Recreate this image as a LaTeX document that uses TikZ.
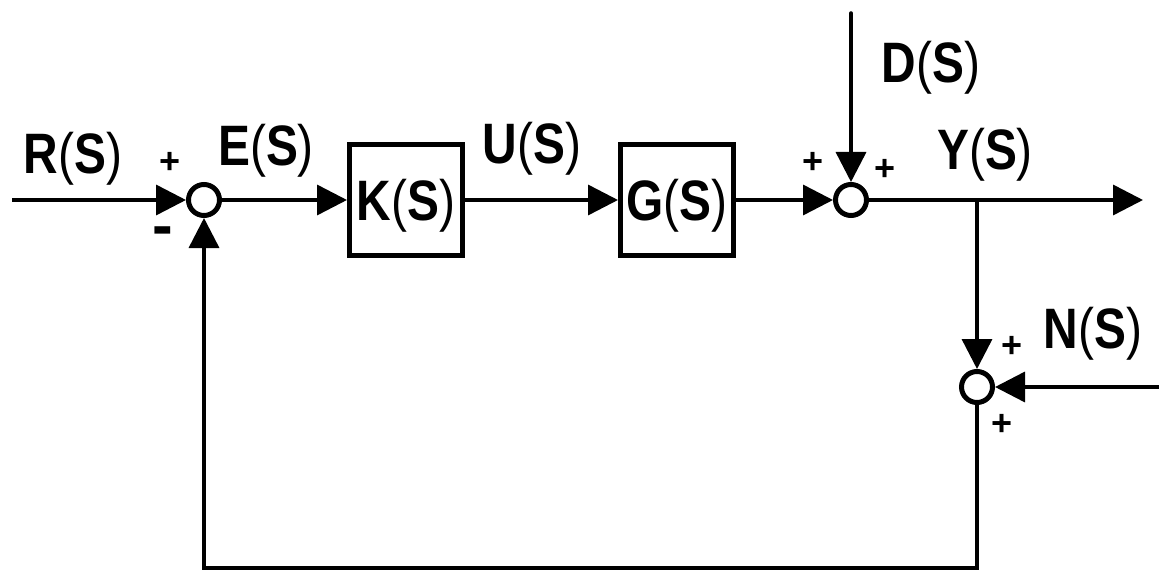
\documentclass[tikz,border=0pt]{standalone}
\usepackage{fontspec}
\setmainfont{Liberation Sans}
\usetikzlibrary{arrows.meta}
% signal label: bold letter, light parentheses, slightly condensed
\newcommand\sigl[1]{\scalebox{0.84}[1]{\fontsize{57}{60}\selectfont\bfseries #1\mdseries(\bfseries S\mdseries)}}
\begin{document}
\begin{tikzpicture}[x=1pt,y=-1pt,
  wire/.style={line width=3.5pt},
  tip/.style={-{Triangle[length=30pt,width=30pt]}},
  blk/.style={draw,line width=5pt,minimum width=113pt,minimum height=110pt,
    inner sep=0pt,text height=41pt,text depth=0pt},
  sumpt/.style={draw,circle,line width=5pt,minimum size=31pt,inner sep=0pt},
  lab/.style={inner sep=0pt,text height=41pt,text depth=0pt},
  sgn/.style={inner sep=0pt,font=\fontsize{36}{36}\selectfont\bfseries}]
\useasboundingbox (0,0) rectangle (1159,572);

% summing junctions and blocks
\node[sumpt] (s1) at (204,200) {};
\node[blk] (K) at (406,200) {\sigl{K}};
\node[blk] (G) at (677,200) {\sigl{G}};
\node[sumpt] (s2) at (851,200) {};
\node[sumpt] (s3) at (977,387) {};

% free ends and corners
\coordinate (in) at (12,200);
\coordinate (dtop) at (851,13);
\coordinate (out) at (1143,200);
\coordinate (br) at (977,200);
\coordinate (nin) at (1159,387);
\coordinate (c2) at (977,568);
\coordinate (c1) at (204,568);

% forward path
\draw[wire,tip] (in) -- (s1);
\draw[wire,tip] (s1) -- (K);
\draw[wire,tip] (K) -- (G);
\draw[wire,tip] (G) -- (s2);
\draw[wire,tip] (s2) -- (out);
% disturbance and noise inputs
\draw[wire,tip,line cap=round] (dtop) -- (s2);
\draw[wire,tip] (br) -- (s3);
\draw[wire,tip] (nin) -- (s3);
% feedback path
\draw[wire,tip] (s3) -- (c2) -- (c1) -- (s1);

% signal labels
\node[lab] (lR) at (73,153) {\sigl{R}};
\node[lab] (lE) at (266,145) {\sigl{E}};
\node[lab] (lU) at (532,143) {\sigl{U}};
\node[lab] (lD) at (931,62) {\sigl{D}};
\node[lab] (lY) at (985,149) {\sigl{Y}};
\node[lab] (lN) at (1093,328) {\sigl{N}};

% signs at the junctions
\node[sgn] (p1) at (170,163) {+};
\node[sgn,font=\fontsize{62}{62}\selectfont\bfseries] (m1) at (163,237) {-};
\node[sgn] (p2) at (813,163) {+};
\node[sgn] (p3) at (885,170) {+};
\node[sgn] (p4) at (1012,347) {+};
\node[sgn] (p5) at (1002,425) {+};
\end{tikzpicture}
\end{document}
